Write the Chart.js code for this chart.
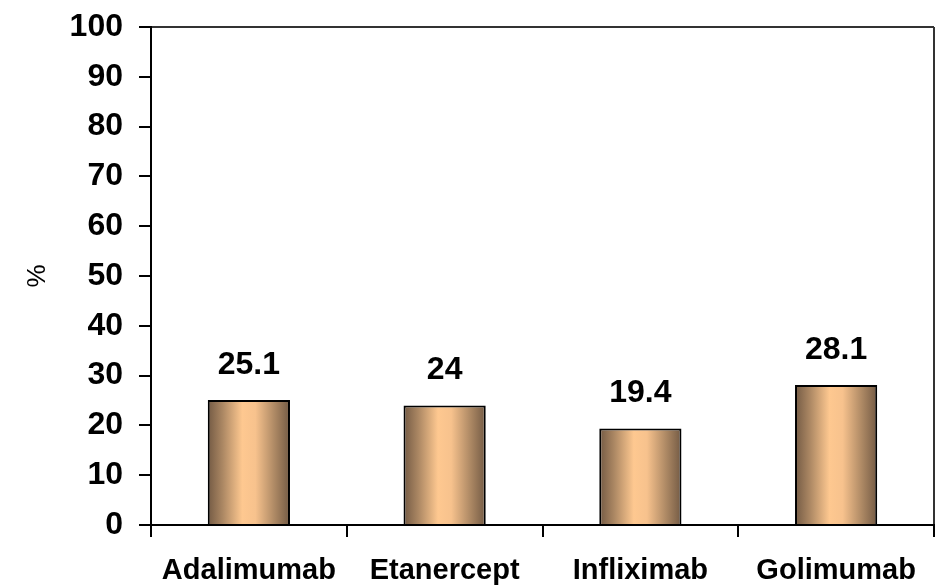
<!DOCTYPE html>
<html>
<head>
<meta charset="utf-8">
<script src="https://cdn.jsdelivr.net/npm/chart.js@4"></script>
<style>
    html, body { margin: 0; padding: 0; background: #fff; }
    #wrap { width: 938px; height: 587px; position: relative; }
</style>
</head>
<body>
<div id="wrap"><canvas id="chart"></canvas></div>
<script>
// data
const drugs = ['Adalimumab', 'Etanercept', 'Infliximab', 'Golimumab'];
const percents = [25.1, 24, 19.4, 28.1];
const valueLabels = ['25.1', '24', '19.4', '28.1'];

const FONT = "'Liberation Sans', Arial, sans-serif";
const BAR_FRACTION = 0.42;

// horizontal "cylinder" shading, one gradient per bar
function barFill(c) {
    const chart = c.chart;
    const xs = chart.scales.x;
    if (!chart.chartArea || !xs || c.dataIndex === undefined) return '#e0a878';
    const cx = xs.getPixelForValue(c.dataIndex);
    const half = (chart.chartArea.width / drugs.length) * BAR_FRACTION / 2;
    const g = chart.ctx.createLinearGradient(cx - half, 0, cx + half, 0);
    g.addColorStop(0, '#735a44');
    g.addColorStop(0.18, '#ab8763');
    g.addColorStop(0.42, '#fec890');
    g.addColorStop(0.58, '#f7c28d');
    g.addColorStop(0.82, '#ab8763');
    g.addColorStop(1, '#735a44');
    return g;
}

// value labels above the bars
const valueLabelPlugin = {
    id: 'valueLabels',
    afterDatasetsDraw(chart) {
        const ctx = chart.ctx;
        const meta = chart.getDatasetMeta(0);
        ctx.save();
        ctx.font = 'bold 32px ' + FONT;
        ctx.fillStyle = '#000';
        ctx.textAlign = 'center';
        ctx.textBaseline = 'bottom';
        meta.data.forEach((bar, i) => {
            ctx.fillText(valueLabels[i], bar.x, bar.y - 19);
        });
        ctx.restore();
    }
};

new Chart(document.getElementById('chart'), {
    type: 'bar',
    data: {
        labels: drugs,
        datasets: [{
            data: percents,
            backgroundColor: barFill,
            borderColor: '#000',
            borderWidth: 2,
            borderSkipped: 'bottom',
            categoryPercentage: 1,
            barPercentage: BAR_FRACTION
        }]
    },
    options: {
        responsive: true,
        maintainAspectRatio: false,
        animation: false,
        layout: { padding: { left: 0, right: 4, top: 0, bottom: 0 } },
        plugins: {
            legend: { display: false },
            tooltip: { enabled: false }
        },
        scales: {
            y: {
                min: 0,
                max: 100,
                afterFit: (s) => {
                    s.width = 151;
                    s.paddingTop = 27;
                    s.paddingBottom = 0;
                },
                ticks: {
                    stepSize: 10,
                    color: '#000',
                    padding: 16,
                    font: { family: FONT, size: 32, weight: 'bold' }
                },
                grid: {
                    color: (c) => (c.tick && c.tick.value === 100) ? '#333' : 'rgba(0,0,0,0)',
                    tickColor: '#000',
                    tickLength: 12,
                    lineWidth: 2
                },
                border: { display: true, color: '#000', width: 2 },
                title: {
                    display: true,
                    text: '%',
                    color: '#000',
                    padding: { top: 22, bottom: 0 },
                    font: { family: FONT, size: 26, weight: 'normal' }
                }
            },
            x: {
                afterFit: (s) => {
                    s.height = 62;
                    s.paddingLeft = 0;
                    s.paddingRight = 0;
                },
                ticks: {
                    color: '#000',
                    padding: 17,
                    maxRotation: 0,
                    font: { family: FONT, size: 29, weight: 'bold' }
                },
                grid: {
                    offset: true,
                    color: (c) => c.type === 'scale' ? '#333' : 'rgba(0,0,0,0)',
                    tickColor: '#000',
                    tickLength: 12,
                    lineWidth: 2
                },
                border: { display: true, color: '#000', width: 2 }
            }
        }
    },
    plugins: [valueLabelPlugin]
});
</script>
</body>
</html>
